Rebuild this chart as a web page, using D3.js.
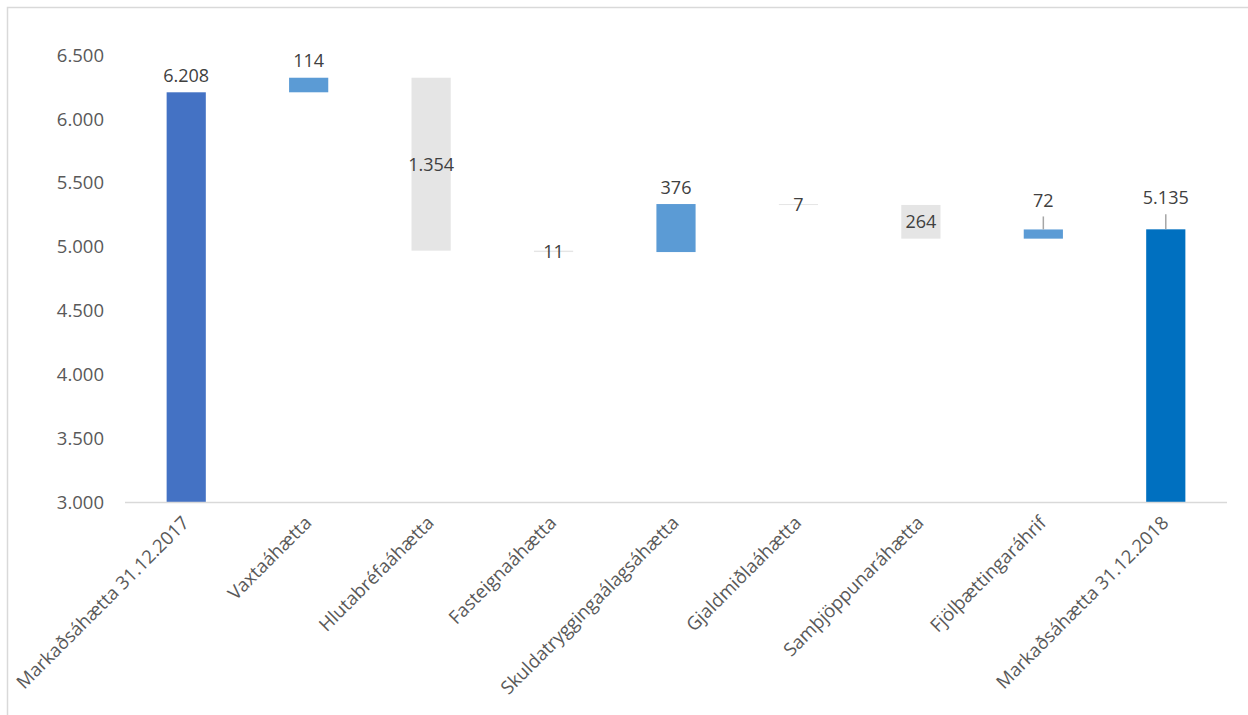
<!DOCTYPE html>
<html>
<head>
<meta charset="utf-8">
<script src="https://cdn.jsdelivr.net/npm/d3@7"></script>
<style>
  html, body { margin: 0; padding: 0; background: #fff; }
  svg { display: block; }
</style>
</head>
<body>
<svg id="chart" width="1248" height="715"></svg>
<script>
// Market risk bridge, 31.12.2017 -> 31.12.2018
const categories = [
  "Markaðsáhætta 31.12.2017",
  "Vaxtaáhætta",
  "Hlutabréfaáhætta",
  "Fasteignaáhætta",
  "Skuldatryggingaálagsáhætta",
  "Gjaldmiðlaáhætta",
  "Samþjöppunaráhætta",
  "Fjölþættingaráhrif",
  "Markaðsáhætta 31.12.2018"
];
// signed change per step; first and last are totals
const values = [6208, 114, -1354, -11, 376, -7, -264, 72, 5135];
const kinds = ["total", "delta", "delta", "delta", "delta", "delta", "delta", "delta", "total"];
const yTicks = [3000, 3500, 4000, 4500, 5000, 5500, 6000, 6500];

const colors = {
  start: "#4472C4",
  end: "#0070C0",
  up: "#5B9BD5",
  down: "#E5E5E5"
};

const svg = d3.select("#chart");
const fontFamily = "'Open Sans', 'Noto Sans', sans-serif";

// outer frame
svg.append("rect")
  .attr("x", 7.5).attr("y", 7.5)
  .attr("width", 1260).attr("height", 720)
  .attr("fill", "none").attr("stroke", "#D9D9D9").attr("stroke-width", 1.5);

const plot = { left: 125, right: 1227, top: 55, bottom: 502 };

const x = d3.scaleBand()
  .domain(categories)
  .range([plot.left, plot.right])
  .paddingInner(0.68)
  .paddingOuter(0.34);

const y = d3.scaleLinear()
  .domain([3000, 6500])
  .range([plot.bottom, plot.top]);

// build running bars
let running = 0;
const bars = categories.map((c, i) => {
  const v = values[i];
  let lo, hi, color, type;
  if (kinds[i] === "total") {
    lo = 3000; hi = v; running = v;
    color = i === 0 ? colors.start : colors.end;
    type = "total";
  } else {
    const start = running;
    const end = running + v;
    lo = Math.min(start, end); hi = Math.max(start, end);
    running = end;
    color = v >= 0 ? colors.up : colors.down;
    type = v >= 0 ? "up" : "down";
  }
  return { c, v, lo, hi, color, type, i };
});

// y axis tick labels
svg.append("g")
  .selectAll("text")
  .data(yTicks)
  .join("text")
  .attr("x", 104)
  .attr("y", d => y(d))
  .attr("dy", "0.36em")
  .attr("text-anchor", "end")
  .attr("font-family", fontFamily)
  .attr("font-size", 18.5)
  .attr("fill", "#595959")
  .text(d => d3.format(",")(d).replace(/,/g, "."));

// bars
svg.append("g")
  .selectAll("rect")
  .data(bars)
  .join("rect")
  .attr("x", d => x(d.c))
  .attr("width", x.bandwidth())
  .attr("y", d => y(d.hi))
  .attr("height", d => Math.max(1, y(d.lo) - y(d.hi)))
  .attr("fill", d => d.color);

// category axis line
svg.append("line")
  .attr("x1", plot.left).attr("x2", plot.right)
  .attr("y1", plot.bottom + 0.5).attr("y2", plot.bottom + 0.5)
  .attr("stroke", "#D9D9D9").attr("stroke-width", 1.5);

// category labels, rotated
svg.append("g")
  .selectAll("text")
  .data(categories)
  .join("text")
  .attr("transform", d => `translate(${x(d) + x.bandwidth() / 2 + 4},${plot.bottom + 22}) rotate(-45)`)
  .attr("text-anchor", "end")
  .attr("font-family", fontFamily)
  .attr("font-size", 18.5)
  .attr("fill", "#595959")
  .text(d => d);

// value labels
const fmt = v => d3.format(",")(Math.abs(v)).replace(/,/g, ".");
const labels = svg.append("g");
bars.forEach(d => {
  const cx = x(d.c) + x.bandwidth() / 2;
  let ly, leader = null;
  if (d.type === "down") {
    ly = (y(d.lo) + y(d.hi)) / 2;
  } else if (d.type === "up" && (y(d.lo) - y(d.hi)) < 12 && d.i === 7) {
    ly = y(d.hi) - 29;
    leader = [y(d.hi) - 13, y(d.hi)];
  } else if (d.type === "total" && d.i === 8) {
    ly = y(d.hi) - 32;
    leader = [y(d.hi) - 15, y(d.hi)];
  } else {
    ly = y(d.hi) - 17;
  }
  if (leader) {
    labels.append("line")
      .attr("x1", cx).attr("x2", cx)
      .attr("y1", leader[0]).attr("y2", leader[1])
      .attr("stroke", "#A6A6A6").attr("stroke-width", 1.5);
  }
  labels.append("text")
    .attr("x", cx)
    .attr("y", ly)
    .attr("dy", "0.36em")
    .attr("text-anchor", "middle")
    .attr("font-family", fontFamily)
    .attr("font-size", 18)
    .attr("fill", "#404040")
    .text(fmt(d.v));
});
</script>
</body>
</html>
